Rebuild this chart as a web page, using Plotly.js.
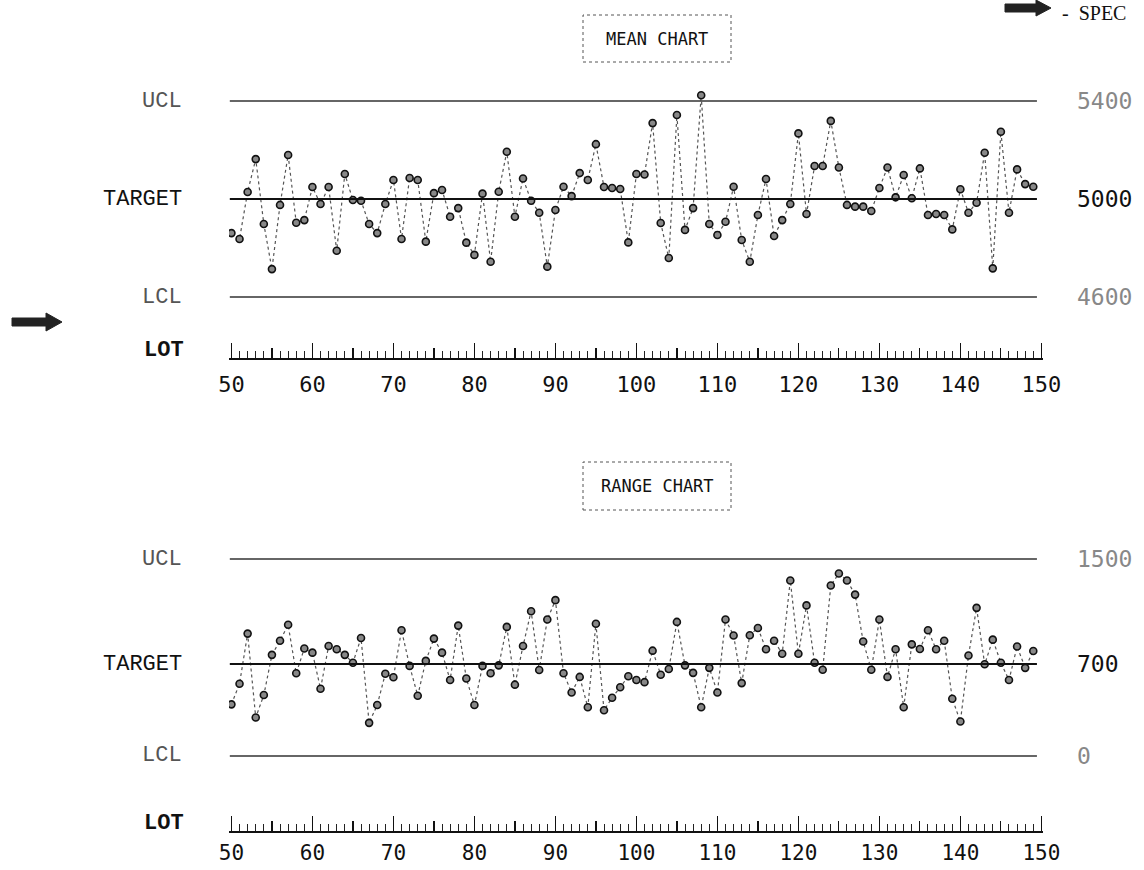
<!DOCTYPE html>
<html>
<head>
<meta charset="utf-8">
<script src="https://cdn.plot.ly/plotly-3.0.1.min.js"></script>
<style>html,body{margin:0;padding:0;background:#fff;}#chart{width:1144px;height:870px;}</style>
</head>
<body>
<div id="chart"></div>
<script>
// ---- data ----
const lots = [50,51,52,53,54,55,56,57,58,59,60,61,62,63,64,65,66,67,68,69,70,71,72,73,74,75,76,77,78,79,
  80,81,82,83,84,85,86,87,88,89,90,91,92,93,94,95,96,97,98,99,100,101,102,103,104,105,106,107,108,109,
  110,111,112,113,114,115,116,117,118,119,120,121,122,123,124,125,126,127,128,129,130,131,132,133,134,135,
  136,137,138,139,140,141,142,143,144,145,146,147,148,149];

const meanValues = [4861,4837,5029,5163,4898,4714,4976,5180,4903,4914,5049,4980,5049,4789,5102,4996,4993,4898,4861,4980,
  5078,4837,5086,5078,4826,5024,5037,4928,4963,4822,4772,5022,4744,5030,5193,4928,5084,4993,4944,4724,
  4955,5050,5012,5106,5078,5224,5049,5045,5041,4823,5102,5100,5310,4902,4759,5343,4874,4963,5424,4898,
  4853,4907,5050,4833,4744,4935,5082,4849,4914,4980,5268,4939,5135,5135,5319,5129,4976,4969,4969,4951,
  5045,5129,5007,5098,5003,5125,4935,4939,4935,4876,5040,4944,4985,5189,4717,5275,4944,5121,5061,5050];

const rangeValues = [393,550,932,293,464,770,878,999,630,819,787,512,837,813,770,710,899,252,388,626,
  600,958,686,459,724,894,787,578,993,590,388,686,630,690,983,543,837,1102,655,1039,
  1187,630,483,602,371,1007,348,443,523,607,578,562,802,619,662,1021,690,633,371,671,
  483,1039,918,555,920,975,813,878,778,1337,778,1147,710,657,1298,1390,1337,1229,872,657,
  1039,602,813,371,850,815,958,813,878,436,262,765,1128,698,886,710,578,834,671,800];

const limitNames = ["UCL","TARGET","LCL"];
const meanLimits = [5400, 5000, 4600];
const rangeLimits = [1500, 700, 0];
const lotTicks = [50,60,70,80,90,100,110,120,130,140,150];
const lotMidTicks = [55,65,75,85,95,105,115,125,135,145];
const lotStart = 49.8, lotEnd = 149.45;

// ---- layout helpers ----
const W = 1144, H = 870;
const px = x => x / W;
const py = y => 1 - y / H;

const lineStyle = {color:'#555', width:1.2, dash:'dot'};
const markerStyle = {symbol:'circle', size:7, color:'#888', line:{color:'#111', width:1.6}};

const traces = [
  {x: lots, y: meanValues, xaxis:'x', yaxis:'y', mode:'lines+markers', line: lineStyle, marker: markerStyle, hoverinfo:'skip', showlegend:false},
  {x: lots, y: rangeValues, xaxis:'x2', yaxis:'y2', mode:'lines+markers', line: lineStyle, marker: markerStyle, hoverinfo:'skip', showlegend:false},
  {x: [null], y: [null], xaxis:'x3', yaxis:'y', mode:'markers', hoverinfo:'skip', showlegend:false},
  {x: [null], y: [null], xaxis:'x4', yaxis:'y2', mode:'markers', hoverinfo:'skip', showlegend:false}
];

const dom = [px(229), px(1043)];
const xr = [49.7, 150.2];
const rulerAxis = (pos, standoff, fs) => ({
  domain: dom, range: xr, anchor:'free', position: pos,
  showline:true, linecolor:'#111', linewidth:1.5,
  ticks:'inside', tickmode:'array', tickvals: lotTicks, ticklen:15, tickwidth:1.5, tickcolor:'#111',
  minor:{ticks:'inside', dtick:1, tick0:50, ticklen:7, tickwidth:1, tickcolor:'#222'},
  showgrid:false, zeroline:false, fixedrange:true,
  tickfont:{family:'DejaVu Sans Mono', size:fs, color:'#111'}, ticklabelstandoff: standoff
});
const midAxis = (over, pos) => ({
  overlaying: over, domain: dom, range: xr, anchor:'free', position: pos,
  showline:false, ticks:'inside', tickmode:'array', tickvals: lotMidTicks, ticklen:10, tickwidth:1.2, tickcolor:'#111',
  showticklabels:false, showgrid:false, zeroline:false, fixedrange:true
});

const meanPos = py(358), rangePos = py(831);

const shapes = [];
const annotations = [];
const charts = [
  {yref:'y', limits: meanLimits, labels: meanLimits.map(String)},
  {yref:'y2', limits: rangeLimits, labels: rangeLimits.map(String)}
];
charts.forEach(c => {
  c.limits.forEach((v, i) => {
    const isTarget = i === 1;
    shapes.push({type:'line', xref: c.yref === 'y' ? 'x' : 'x2', yref: c.yref, x0: lotStart, x1: lotEnd, y0: v, y1: v,
      line:{color: isTarget ? '#111' : '#333', width: isTarget ? 2 : 1.5}});
    annotations.push({xref:'paper', yref:c.yref, x: px(184), y: v, xanchor:'right', yanchor:'middle', showarrow:false,
      text: limitNames[i], font:{family:'Liberation Mono', size: 22, color: isTarget ? '#111' : '#555'}});
    annotations.push({xref:'paper', yref:c.yref, x: px(1075), y: v, xanchor:'left', yanchor:'middle', showarrow:false,
      text: c.labels[i], font:{family:'DejaVu Sans Mono', size: 23, color: isTarget ? '#111' : '#888'}});
  });
});

// LOT labels
[[350],[823]].forEach(([y]) => {
  annotations.push({xref:'paper', yref:'paper', x: px(186), y: py(y), xanchor:'right', yanchor:'middle', showarrow:false,
    text:'<b>LOT</b>', font:{family:'Liberation Mono', size:22, color:'#111'}});
});

// Title boxes
[["MEAN CHART", 15, 62], ["RANGE CHART", 462, 510]].forEach(([t, y0, y1]) => {
  shapes.push({type:'rect', xref:'paper', yref:'paper', x0: px(583), x1: px(731), y0: py(y1), y1: py(y0),
    line:{color:'#555', width:1, dash:'dot'}});
  annotations.push({xref:'paper', yref:'paper', x: px(657), y: py((y0 + y1) / 2), xanchor:'center', yanchor:'middle', showarrow:false,
    text: t, font:{family:'DejaVu Sans Mono', size:17, color:'#111'}});
});

// arrows
const arrowPath = (x0, yc, len, hl, bh, hh) => {
  const xb = x0 + len - hl;
  return `M ${px(x0)},${py(yc - bh)} L ${px(xb)},${py(yc - bh)} L ${px(xb)},${py(yc - hh)} L ${px(x0 + len)},${py(yc)} ` +
         `L ${px(xb)},${py(yc + hh)} L ${px(xb)},${py(yc + bh)} L ${px(x0)},${py(yc + bh)} Z`;
};
shapes.push({type:'path', xref:'paper', yref:'paper', path: arrowPath(12, 322, 50, 16, 4, 9), fillcolor:'#222', line:{color:'#222', width:1}});
shapes.push({type:'path', xref:'paper', yref:'paper', path: arrowPath(1005, 8, 46, 15, 4, 8), fillcolor:'#222', line:{color:'#222', width:1}});
annotations.push({xref:'paper', yref:'paper', x: px(1060), y: 1, xanchor:'left', yanchor:'top', showarrow:false,
  text:'-  SPEC', font:{family:'Liberation Serif', size:20, color:'#111'}});

const layout = {
  width: W, height: H, margin:{l:0, r:0, t:0, b:0, pad:0},
  paper_bgcolor:'#fff', plot_bgcolor:'rgba(0,0,0,0)', showlegend:false,
  xaxis: rulerAxis(meanPos, 6, 22),
  xaxis2: rulerAxis(rangePos, 2, 21),
  xaxis3: midAxis('x', meanPos),
  xaxis4: midAxis('x2', rangePos),
  yaxis: {domain:[py(310), py(80)], range:[4547, 5486], visible:false, anchor:'x', fixedrange:true},
  yaxis2: {domain:[py(770), py(540)], range:[-107, 1645], visible:false, anchor:'x2', fixedrange:true},
  shapes: shapes, annotations: annotations
};

Plotly.newPlot('chart', traces, layout, {staticPlot:true, displayModeBar:false});
</script>
</body>
</html>
